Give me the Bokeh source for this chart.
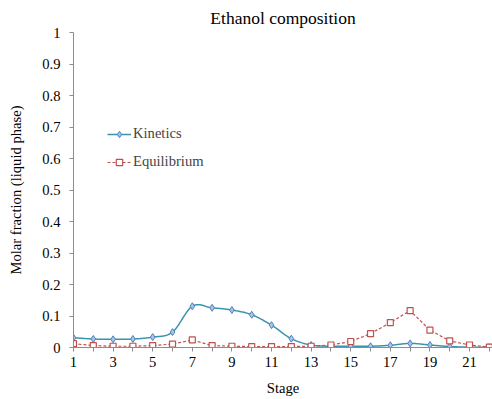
import numpy as np
from bokeh.plotting import figure
from bokeh.models import FixedTicker, Legend, LegendItem, ColumnDataSource
from bokeh.embed import file_html
from bokeh.resources import INLINE

# Stage numbers and liquid-phase ethanol molar fractions
stages = list(range(1, 23))
kinetics = [0.031, 0.027, 0.026, 0.027, 0.033, 0.049, 0.131, 0.126, 0.119, 0.104,
            0.071, 0.028, 0.008, 0.004, 0.004, 0.004, 0.007, 0.013, 0.008, 0.003,
            0.001, 0.001]
equilibrium = [0.012, 0.006, 0.004, 0.004, 0.006, 0.011, 0.024, 0.006, 0.004, 0.003,
               0.003, 0.003, 0.004, 0.008, 0.019, 0.044, 0.079, 0.117, 0.055, 0.021,
               0.008, 0.001]
y_ticks = [0, 0.1, 0.2, 0.3, 0.4, 0.5, 0.6, 0.7, 0.8, 0.9, 1.0]
y_tick_labels = ["0", "0.1", "0.2", "0.3", "0.4", "0.5", "0.6", "0.7", "0.8", "0.9", "1"]

FONT = "Liberation Serif"
SIZE = "14.6px"
KIN_LINE = "#3a93ad"
KIN_MARK = "#4f81bd"
EQ_COLOR = "#c0504d"


def smooth(xs, ys, n=20):
    """Catmull-Rom smoothing through the given points (drawing only)."""
    xs = np.asarray(xs, float)
    ys = np.asarray(ys, float)
    px = np.concatenate([[2 * xs[0] - xs[1]], xs, [2 * xs[-1] - xs[-2]]])
    py = np.concatenate([[2 * ys[0] - ys[1]], ys, [2 * ys[-1] - ys[-2]]])
    ox, oy = [], []
    for i in range(1, len(px) - 2):
        t = np.linspace(0, 1, n, endpoint=False)
        for arr, out in ((px, ox), (py, oy)):
            p0, p1, p2, p3 = arr[i - 1], arr[i], arr[i + 1], arr[i + 2]
            out.extend(0.5 * ((2 * p1) + (-p0 + p2) * t
                              + (2 * p0 - 5 * p1 + 4 * p2 - p3) * t ** 2
                              + (-p0 + 3 * p1 - 3 * p2 + p3) * t ** 3))
    ox.append(xs[-1])
    oy.append(ys[-1])
    return ox, oy


p = figure(width=492, height=399, output_backend="svg", toolbar_location=None,
           x_range=(1, 22.16), y_range=(0, 1),
           min_border_left=73, min_border_right=0, min_border_top=30,
           min_border_bottom=52, title="Ethanol composition")
p.title.align = "center"
p.title.text_font = FONT
p.title.text_font_size = "17.5px"
p.title.text_font_style = "normal"
p.title.text_color = "#000000"
p.title.offset = 8
p.outline_line_color = None
p.grid.visible = False

kx, ky = smooth(stages, kinetics)
src_k = ColumnDataSource(dict(x=stages, y=kinetics))
src_e = ColumnDataSource(dict(x=stages, y=equilibrium))

kl = p.line(kx, ky, line_color=KIN_LINE, line_width=1.5)
km = p.scatter("x", "y", source=src_k, marker="diamond", size=7,
               line_color=KIN_MARK, fill_color="#a9c4e4", line_width=1)
el = p.line("x", "y", source=src_e, line_color=EQ_COLOR, line_width=1.2,
            line_dash="3 2")
em = p.scatter("x", "y", source=src_e, marker="square", size=6,
               line_color=EQ_COLOR, fill_color="white", line_width=1.2)

# Axes
p.yaxis.ticker = FixedTicker(ticks=y_ticks)
p.yaxis.major_label_overrides = {t: l for t, l in zip(y_ticks, y_tick_labels)}
p.xaxis.ticker = FixedTicker(ticks=stages)
p.xaxis.major_label_overrides = {s: (str(s) if s % 2 == 1 else "") for s in stages}
for ax in (p.xaxis, p.yaxis):
    ax.axis_line_color = "#8c8c8c"
    ax.major_tick_line_color = "#8c8c8c"
    ax.minor_tick_line_color = None
    ax.major_tick_in = 0
    ax.major_tick_out = 4
    ax.major_label_text_font = FONT
    ax.major_label_text_font_size = SIZE
    ax.major_label_text_color = "#000000"
    ax.axis_label_text_font = FONT
    ax.axis_label_text_font_size = SIZE
    ax.axis_label_text_font_style = "normal"
    ax.axis_label_text_color = "#000000"
p.xaxis.axis_label = "Stage"
p.yaxis.axis_label = "Molar fraction (liquid phase)"
p.xaxis.major_label_standoff = 5
p.xaxis.axis_label_standoff = 10
p.yaxis.major_label_standoff = 9
p.yaxis.axis_label_standoff = 15

legend = Legend(items=[LegendItem(label="Kinetics", renderers=[kl, km]),
                       LegendItem(label="Equilibrium", renderers=[el, em])],
                location=(34, 177), background_fill_alpha=0,
                border_line_color=None, padding=0, spacing=11,
                glyph_width=24, glyph_height=16, label_standoff=2,
                label_text_font=FONT, label_text_font_size=SIZE)
p.add_layout(legend)

open("out.html", "w").write(file_html(p, INLINE))
